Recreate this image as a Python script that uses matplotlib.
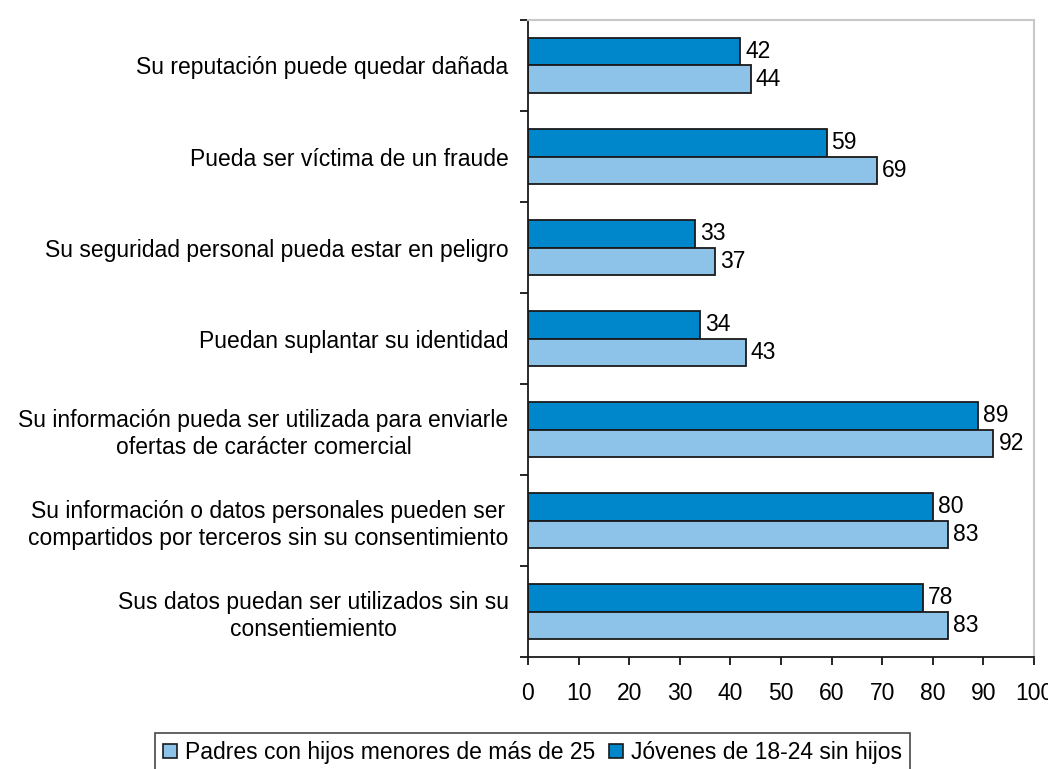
import matplotlib.pyplot as plt
import numpy as np

plt.rcParams['font.family'] = ['Liberation Sans', 'DejaVu Sans']

categories = [
    'Su reputación puede quedar dañada',
    'Pueda ser víctima de un fraude',
    'Su seguridad personal pueda estar en peligro',
    'Puedan suplantar su identidad',
    'Su información pueda ser utilizada para enviarle\nofertas de carácter comercial',
    'Su información o datos personales pueden ser\ncompartidos por terceros sin su consentimiento',
    'Sus datos puedan ser utilizados sin su\nconsentiemiento',
]
jovenes = [42, 59, 33, 34, 89, 80, 78]
padres = [44, 69, 37, 43, 92, 83, 83]
series_names = ['Padres con hijos menores de más de 25', 'Jóvenes de 18-24 sin hijos']
xticks = list(range(0, 101, 10))

dark = '#0087CB'
light = '#8DC3E8'
fs = 16.5

fig = plt.figure(figsize=(10.48, 7.69), dpi=100)
ax = fig.add_axes([0.5038, 0.1456, 0.4828, 0.8284])

y = np.arange(len(categories))
h = 0.3
b_dark = ax.barh(y - h / 2, jovenes, height=h, color=dark, edgecolor='#1a1a1a', linewidth=1.3)
b_light = ax.barh(y + h / 2, padres, height=h, color=light, edgecolor='#1a1a1a', linewidth=1.3)

for bars, vals in ((b_dark, jovenes), (b_light, padres)):
    for rect, v in zip(bars, vals):
        ax.text(v + 1.0, rect.get_y() + rect.get_height() / 2, str(v),
                va='center', ha='left', fontsize=fs)

ax.set_xlim(0, 100)
ax.set_ylim(len(categories) - 0.5, -0.5)
ax.set_xticks(xticks)
ax.set_xticklabels([str(t) for t in xticks], fontsize=fs)
ax.set_yticks(y)
ax.set_yticklabels(categories, fontsize=fs, multialignment='center')
ax.set_yticks(np.arange(-0.5, len(categories) + 0.5, 1), minor=True)
ax.tick_params(axis='y', which='major', length=0, pad=14)
ax.tick_params(axis='y', which='minor', length=6, width=1.2, direction='out')
ax.tick_params(axis='x', length=6, width=1.2, direction='out', pad=12)

for s in ('top', 'right'):
    ax.spines[s].set_color('#c8c8c8')
    ax.spines[s].set_linewidth(1.5)
for s in ('left', 'bottom'):
    ax.spines[s].set_color('#1a1a1a')
    ax.spines[s].set_linewidth(1.3)

handles = [plt.Rectangle((0, 0), 1, 1, facecolor=light, edgecolor='#1a1a1a', linewidth=1.2),
           plt.Rectangle((0, 0), 1, 1, facecolor=dark, edgecolor='#1a1a1a', linewidth=1.2)]
leg = fig.legend(handles, series_names, loc='upper center', bbox_to_anchor=(0.508, 0.047),
                 ncol=2, fontsize=fs, frameon=True, fancybox=False, handlelength=0.6,
                 handleheight=0.6, handletextpad=0.35, columnspacing=0.6,
                 borderpad=0.35, borderaxespad=0)
leg.get_frame().set_edgecolor('#1a1a1a')
leg.get_frame().set_linewidth(1.2)

fig.savefig('out.png', dpi=100)
